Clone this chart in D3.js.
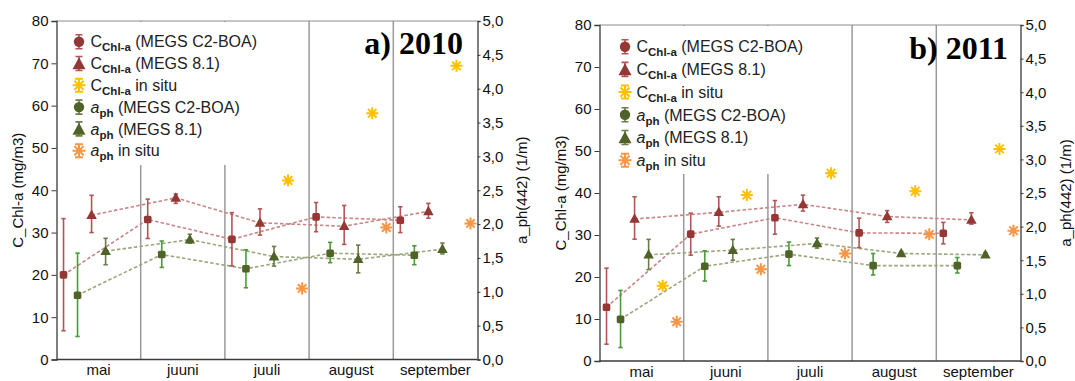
<!DOCTYPE html>
<html>
<head>
<meta charset="utf-8">
<script src="https://cdn.jsdelivr.net/npm/d3@7"></script>
<style>
  html, body { margin: 0; padding: 0; background: #fff; }
  svg { display: block; font-family: Arial, "Liberation Sans", sans-serif; }
</style>
</head>
<body>
<svg id="chart" width="1075" height="381"></svg>
<script>
// ---- data ------------------------------------------------------------
const months = ["mai", "juuni", "juuli", "august", "september"];
const chlTicks = [0, 10, 20, 30, 40, 50, 60, 70, 80];
const aphTicks = [0, 0.5, 1, 1.5, 2, 2.5, 3, 3.5, 4, 4.5, 5];

// 2010 — chlorophyll-a (mg/m3)
const chlC2boa2010   = [20.0, 33.1, 28.4, 33.7, 32.9];
const chlC2boa2010Lo = [6.8, 28.6, 22.1, 30.2, 30.0];
const chlC2boa2010Hi = [33.3, 37.9, 34.7, 37.1, 36.1];
const chlMegs2010    = [34.1, 38.2, 32.3, 31.5, 35.0];
const chlMegs2010Lo  = [30.0, 36.9, 29.4, 27.2, 33.4];
const chlMegs2010Hi  = [38.8, 39.1, 35.6, 36.4, 36.9];
const chlInSitu2010  = [null, null, 42.3, 58.2, 69.4];
// 2010 — a_ph(442) (1/m)
const aphC2boa2010   = [0.95, 1.55, 1.34, 1.57, 1.54];
const aphC2boa2010Lo = [0.34, 1.36, 1.06, 1.43, 1.40];
const aphC2boa2010Hi = [1.57, 1.75, 1.62, 1.73, 1.68];
const aphMegs2010    = [1.60, 1.77, 1.52, 1.48, 1.63];
const aphMegs2010Lo  = [1.40, 1.72, 1.38, 1.28, 1.56];
const aphMegs2010Hi  = [1.79, 1.85, 1.67, 1.69, 1.72];
const aphInSitu2010  = [null, null, 1.05, 1.95, 2.01];

// 2011 — chlorophyll-a (mg/m3)
const chlC2boa2011   = [12.8, 30.2, 34.1, 30.5, 30.4];
const chlC2boa2011Lo = [4.0, 25.2, 30.2, 27.0, 27.9];
const chlC2boa2011Hi = [22.1, 35.2, 38.2, 34.0, 33.0];
const chlMegs2011    = [33.8, 35.4, 37.3, 34.4, 33.6];
const chlMegs2011Lo  = [29.0, 32.1, 35.7, 33.0, 32.6];
const chlMegs2011Hi  = [39.1, 39.1, 39.5, 35.8, 35.3];
const chlInSitu2011  = [17.9, 39.5, 44.7, 40.4, 50.5];
// 2011 — a_ph(442) (1/m)
const aphC2boa2011   = [0.62, 1.41, 1.59, 1.42, 1.42];
const aphC2boa2011Lo = [0.20, 1.19, 1.42, 1.28, 1.31];
const aphC2boa2011Hi = [1.05, 1.64, 1.77, 1.60, 1.54];
const aphMegs2011    = [1.58, 1.65, 1.75, 1.60, 1.58];
const aphMegs2011Lo  = [1.36, 1.50, 1.68, 1.57, 1.55];
const aphMegs2011Hi  = [1.81, 1.81, 1.83, 1.63, 1.61];
const aphInSitu2011  = [0.585, 1.365, 1.60, 1.885, 1.94];

// ---- styling ---------------------------------------------------------
const RED = "#953735", OLIVE = "#4F6228", GOLD = "#FFC000", ORANGE = "#F79646";
const RED_ERR = "#b45555", RED_LINE = "#c98484";
const GREEN_ERR = "#4a9a3a", OLIVE_ERR = "#6b7d48", GREEN_LINE = "#9aa67c";

const fmtComma = d3.formatLocale({ decimal: ",", thousands: ".", grouping: [3], currency: ["", ""] }).format(".1f");

function seriesFor(v) {
  // slot = position of the marker inside each month band
  return [
    { slot: 0, axis: "chl", shape: "square",   color: RED,   err: RED_ERR,   line: RED_LINE,   values: v.chlC2, lo: v.chlC2Lo, hi: v.chlC2Hi },
    { slot: 1, axis: "aph", shape: "square",   color: OLIVE, err: GREEN_ERR, line: GREEN_LINE, values: v.aphC2, lo: v.aphC2Lo, hi: v.aphC2Hi },
    { slot: 2, axis: "chl", shape: "triangle", color: RED,   err: RED_ERR,   line: RED_LINE,   values: v.chl81, lo: v.chl81Lo, hi: v.chl81Hi },
    { slot: 3, axis: "aph", shape: "triangle", color: OLIVE, err: OLIVE_ERR, line: GREEN_LINE, values: v.aph81, lo: v.aph81Lo, hi: v.aph81Hi },
    { slot: 4, axis: "chl", shape: "star",     color: GOLD,   values: v.chlIS },
    { slot: 5, axis: "aph", shape: "star",     color: ORANGE, values: v.aphIS }
  ];
}

const panels = [
  {
    title: "a) 2010",
    left: 56.5, right: 477.5, top: 21, bottom: 359.5,
    legend: { x: 79, y: 41.7, step: 21.8, boxRight: 272, boxBottom: 165 },
    titleX: 463, titleY: 54, yLabelLeftX: 17.5, yLabelRightX: 521.5,
    series: seriesFor({
      chlC2: chlC2boa2010, chlC2Lo: chlC2boa2010Lo, chlC2Hi: chlC2boa2010Hi,
      aphC2: aphC2boa2010, aphC2Lo: aphC2boa2010Lo, aphC2Hi: aphC2boa2010Hi,
      chl81: chlMegs2010, chl81Lo: chlMegs2010Lo, chl81Hi: chlMegs2010Hi,
      aph81: aphMegs2010, aph81Lo: aphMegs2010Lo, aph81Hi: aphMegs2010Hi,
      chlIS: chlInSitu2010, aphIS: aphInSitu2010
    })
  },
  {
    title: "b) 2011",
    left: 599.5, right: 1020.5, top: 25, bottom: 361,
    legend: { x: 625, y: 46.7, step: 22.7, boxRight: 816, boxBottom: 174 },
    titleX: 1008, titleY: 59, yLabelLeftX: 561, yLabelRightX: 1066,
    series: seriesFor({
      chlC2: chlC2boa2011, chlC2Lo: chlC2boa2011Lo, chlC2Hi: chlC2boa2011Hi,
      aphC2: aphC2boa2011, aphC2Lo: aphC2boa2011Lo, aphC2Hi: aphC2boa2011Hi,
      chl81: chlMegs2011, chl81Lo: chlMegs2011Lo, chl81Hi: chlMegs2011Hi,
      aph81: aphMegs2011, aph81Lo: aphMegs2011Lo, aph81Hi: aphMegs2011Hi,
      chlIS: chlInSitu2011, aphIS: aphInSitu2011
    })
  }
];

const legendRows = [
  { shape: "circle",   color: RED,    err: RED_ERR,   sym: "C", italic: false, sub: "Chl-a", rest: " (MEGS C2-BOA)" },
  { shape: "triangle", color: RED,    err: RED_ERR,   sym: "C", italic: false, sub: "Chl-a", rest: " (MEGS 8.1)" },
  { shape: "star",     color: GOLD,   err: GOLD,      sym: "C", italic: false, sub: "Chl-a", rest: " in situ" },
  { shape: "circle",   color: OLIVE,  err: OLIVE_ERR, sym: "a", italic: true,  sub: "ph",    rest: " (MEGS C2-BOA)" },
  { shape: "triangle", color: OLIVE,  err: OLIVE_ERR, sym: "a", italic: true,  sub: "ph",    rest: " (MEGS 8.1)" },
  { shape: "star",     color: ORANGE, err: ORANGE,    sym: "a", italic: true,  sub: "ph",    rest: " in situ" }
];

// ---- drawing helpers -------------------------------------------------
const svg = d3.select("#chart");

function trianglePath(w, h) {
  return `M0,${-h * 0.6}L${w / 2},${h * 0.4}L${-w / 2},${h * 0.4}Z`;
}
function starPath(r) {
  const d = r * Math.SQRT1_2;
  return `M${-r},0L${r},0M0,${-r}L0,${r}M${-d},${-d}L${d},${d}M${-d},${d}L${d},${-d}`;
}

function drawPanel(p) {
  const g = svg.append("g");
  const x = d3.scaleBand().domain(months).range([p.left, p.right]).padding(0);
  const slot = d3.scaleBand().domain(d3.range(6)).range([0, x.bandwidth()]).padding(0);
  const yChl = d3.scaleLinear().domain([0, 80]).range([p.bottom, p.top]);
  const yAph = d3.scaleLinear().domain([0, 5]).range([p.bottom, p.top]);
  const yOf = s => (s.axis === "chl" ? yChl : yAph);
  const cx = (i, s) => x(months[i]) + slot(s.slot) + slot.bandwidth() / 2;

  // month separators
  g.append("g").selectAll("line").data(months.slice(1)).join("line")
    .attr("x1", m => x(m)).attr("x2", m => x(m))
    .attr("y1", p.top).attr("y2", p.bottom)
    .attr("stroke", "#9a9a9a").attr("stroke-width", 1.5);

  // top frame
  g.append("line").attr("x1", p.left).attr("x2", p.right)
    .attr("y1", p.top).attr("y2", p.top)
    .attr("stroke", "#8c8c8c").attr("stroke-width", 1);

  // white legend area hides the separators behind it
  g.append("rect").attr("x", p.left + 1).attr("y", p.top + 1)
    .attr("width", p.legend.boxRight - p.left - 1)
    .attr("height", p.legend.boxBottom - p.top - 1)
    .attr("fill", "#fff");

  // axes
  const axL = g.append("g").attr("transform", `translate(${p.left},0)`)
    .call(d3.axisLeft(yChl).tickValues(chlTicks).tickSize(5).tickPadding(3).tickFormat(d3.format("d")));
  const axR = g.append("g").attr("transform", `translate(${p.right},0)`)
    .call(d3.axisRight(yAph).tickValues(aphTicks).tickSize(3).tickPadding(2).tickFormat(fmtComma));
  const axB = g.append("g").attr("transform", `translate(0,${p.bottom})`)
    .call(d3.axisBottom(x).tickSize(0).tickPadding(5));
  [axL, axR, axB].forEach(a => {
    a.select(".domain").attr("stroke", "#3a3a3a").attr("stroke-width", 1.3);
    a.selectAll(".tick line").attr("stroke", "#3a3a3a");
    a.selectAll(".tick text").attr("font-size", 15).attr("fill", "#111")
      .attr("font-family", "Arial, 'Liberation Sans', sans-serif");
  });
  axB.select(".domain").attr("d", `M${p.left},0H${p.right}`);

  // axis titles
  g.append("text").attr("transform", `translate(${p.yLabelLeftX},${(p.top + p.bottom) / 2}) rotate(-90)`)
    .attr("dy", "0.35em").attr("text-anchor", "middle").attr("font-size", 15).attr("fill", "#111")
    .text("C_Chl-a (mg/m3)");
  g.append("text").attr("transform", `translate(${p.yLabelRightX},${(p.top + p.bottom) / 2}) rotate(-90)`)
    .attr("dy", "0.35em").attr("text-anchor", "middle").attr("font-size", 15).attr("fill", "#111")
    .text("a_ph(442) (1/m)");

  // dashed series lines
  const lined = p.series.filter(s => s.line);
  lined.forEach(s => {
    const y = yOf(s);
    const line = d3.line().x((d, i) => cx(i, s)).y(d => y(d));
    g.append("path").datum(s.values).attr("d", line)
      .attr("fill", "none").attr("stroke", s.line).attr("stroke-width", 1.6)
      .attr("stroke-dasharray", "3.5,2.2");
  });

  // error bars
  lined.forEach(s => {
    const y = yOf(s);
    const eg = g.append("g").attr("stroke", s.err).attr("stroke-width", 1.6);
    s.values.forEach((v, i) => {
      const X = cx(i, s), yl = y(s.lo[i]), yh = y(s.hi[i]);
      eg.append("line").attr("x1", X).attr("x2", X).attr("y1", yl).attr("y2", yh);
      eg.append("line").attr("x1", X - 2.2).attr("x2", X + 2.2).attr("y1", yl).attr("y2", yl);
      eg.append("line").attr("x1", X - 2.2).attr("x2", X + 2.2).attr("y1", yh).attr("y2", yh);
    });
  });

  // markers
  p.series.forEach(s => {
    const y = yOf(s);
    const pts = s.values.map((v, i) => ({ v, i })).filter(d => d.v != null);
    const mg = g.append("g");
    if (s.shape === "square") {
      mg.selectAll("rect").data(pts).join("rect")
        .attr("x", d => cx(d.i, s) - 3.8).attr("y", d => y(d.v) - 3.8)
        .attr("width", 7.6).attr("height", 7.6).attr("rx", 1.6)
        .attr("fill", s.color);
    } else if (s.shape === "triangle") {
      mg.selectAll("path").data(pts).join("path")
        .attr("transform", d => `translate(${cx(d.i, s)},${y(d.v)})`)
        .attr("d", trianglePath(10.5, 9.5)).attr("fill", s.color);
    } else {
      mg.selectAll("path").data(pts).join("path")
        .attr("transform", d => `translate(${cx(d.i, s)},${y(d.v)})`)
        .attr("d", starPath(6)).attr("fill", "none")
        .attr("stroke", s.color).attr("stroke-width", 2);
    }
  });

  // legend
  const lg = g.append("g");
  legendRows.forEach((r, k) => {
    const my = p.legend.y + k * p.legend.step, mx = p.legend.x;
    const row = lg.append("g");
    if (r.shape === "star") {
      row.append("path").attr("transform", `translate(${mx},${my})`)
        .attr("d", starPath(6.5) + "M-4,-6.5L4,-6.5M-4,6.5L4,6.5")
        .attr("fill", "none").attr("stroke", r.color).attr("stroke-width", 2);
    } else {
      row.append("path")
        .attr("d", `M${mx},${my - 7}V${my + 7}M${mx - 3.5},${my - 7}H${mx + 3.5}M${mx - 3.5},${my + 7}H${mx + 3.5}`)
        .attr("stroke", r.err).attr("stroke-width", 1.6).attr("fill", "none");
      if (r.shape === "circle") {
        row.append("circle").attr("cx", mx).attr("cy", my).attr("r", 5.2).attr("fill", r.color);
      } else {
        row.append("path").attr("transform", `translate(${mx},${my + 1})`)
          .attr("d", trianglePath(13, 12)).attr("fill", r.color);
      }
    }
    const t = row.append("text").attr("x", mx + 11.5).attr("y", my).attr("dy", "0.36em")
      .attr("font-size", 16).attr("fill", "#222");
    t.append("tspan").attr("font-style", r.italic ? "italic" : "normal").text(r.sym);
    t.append("tspan").attr("font-size", 11.5).attr("font-weight", "bold").attr("dy", 4).text(r.sub);
    t.append("tspan").attr("dy", -4).text(r.rest);
  });

  // panel title
  g.append("text").attr("x", p.titleX).attr("y", p.titleY).attr("text-anchor", "end")
    .attr("font-family", "'Liberation Serif', 'Times New Roman', serif")
    .attr("font-weight", "bold").attr("font-size", 32).attr("fill", "#000")
    .text(p.title);
}

panels.forEach(drawPanel);
</script>
</body>
</html>
